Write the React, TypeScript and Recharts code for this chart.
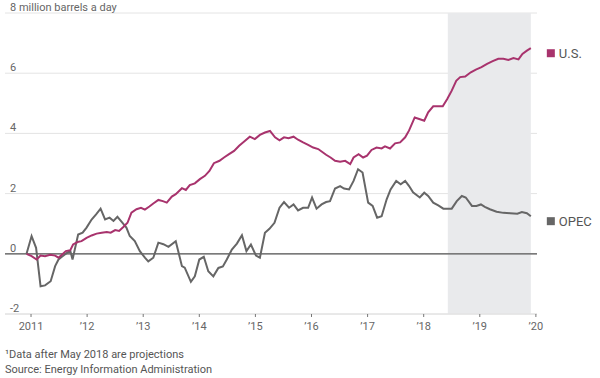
import React from 'react';
import { LineChart, Line, XAxis, YAxis, CartesianGrid, ReferenceLine, ReferenceArea } from 'recharts';

// Change in crude output since Dec 2010, million barrels a day (decimal years)
const usT = [2010.92, 2011.01, 2011.10, 2011.17, 2011.25, 2011.34, 2011.43, 2011.49, 2011.55, 2011.62, 2011.70, 2011.75, 2011.83, 2011.90, 2011.99, 2012.08, 2012.17, 2012.26, 2012.35, 2012.42, 2012.50, 2012.57, 2012.65, 2012.72, 2012.79, 2012.88, 2012.96, 2013.03, 2013.11, 2013.18, 2013.27, 2013.35, 2013.42, 2013.51, 2013.58, 2013.69, 2013.76, 2013.83, 2013.92, 2014.01, 2014.10, 2014.18, 2014.26, 2014.36, 2014.44, 2014.53, 2014.62, 2014.71, 2014.80, 2014.90, 2014.99, 2015.08, 2015.17, 2015.26, 2015.35, 2015.43, 2015.51, 2015.59, 2015.68, 2015.76, 2015.85, 2015.94, 2016.03, 2016.12, 2016.18, 2016.26, 2016.34, 2016.42, 2016.51, 2016.60, 2016.69, 2016.75, 2016.84, 2016.92, 2016.99, 2017.07, 2017.16, 2017.25, 2017.31, 2017.40, 2017.49, 2017.58, 2017.67, 2017.74, 2017.84, 2017.92, 2018.01, 2018.08, 2018.17, 2018.34, 2018.42, 2018.50, 2018.58, 2018.65, 2018.74, 2018.84, 2018.93, 2019.03, 2019.13, 2019.23, 2019.33, 2019.42, 2019.51, 2019.60, 2019.69, 2019.76, 2019.84, 2019.91];
const usV = [0, -0.08, -0.19, -0.06, -0.08, -0.03, -0.06, -0.13, -0.03, 0.09, 0.12, 0.31, 0.39, 0.42, 0.53, 0.61, 0.67, 0.7, 0.72, 0.7, 0.79, 0.76, 0.9, 1.03, 1.37, 1.48, 1.53, 1.47, 1.57, 1.67, 1.79, 1.75, 1.7, 1.9, 1.98, 2.18, 2.12, 2.28, 2.34, 2.48, 2.59, 2.75, 3.01, 3.09, 3.2, 3.31, 3.42, 3.59, 3.73, 3.89, 3.81, 3.95, 4.03, 4.08, 3.87, 3.77, 3.87, 3.84, 3.89, 3.79, 3.7, 3.62, 3.53, 3.48, 3.4, 3.29, 3.2, 3.09, 3.06, 3.09, 2.98, 3.2, 3.31, 3.2, 3.26, 3.45, 3.53, 3.5, 3.57, 3.5, 3.67, 3.7, 3.87, 4.1, 4.53, 4.48, 4.42, 4.7, 4.9, 4.9, 5.14, 5.42, 5.75, 5.87, 5.89, 6.03, 6.12, 6.2, 6.31, 6.4, 6.48, 6.48, 6.44, 6.5, 6.46, 6.64, 6.75, 6.83];

const opecT = [2010.92, 2011.01, 2011.09, 2011.17, 2011.25, 2011.35, 2011.43, 2011.49, 2011.55, 2011.64, 2011.70, 2011.74, 2011.84, 2011.92, 2011.99, 2012.08, 2012.16, 2012.24, 2012.32, 2012.40, 2012.47, 2012.54, 2012.62, 2012.70, 2012.76, 2012.85, 2012.94, 2013.03, 2013.09, 2013.18, 2013.27, 2013.36, 2013.45, 2013.58, 2013.69, 2013.74, 2013.85, 2013.92, 2014.00, 2014.08, 2014.16, 2014.25, 2014.34, 2014.42, 2014.49, 2014.58, 2014.67, 2014.76, 2014.84, 2014.92, 2015.01, 2015.08, 2015.17, 2015.25, 2015.34, 2015.43, 2015.51, 2015.60, 2015.68, 2015.76, 2015.85, 2015.94, 2016.01, 2016.09, 2016.18, 2016.26, 2016.33, 2016.42, 2016.51, 2016.58, 2016.67, 2016.75, 2016.83, 2016.91, 2017.01, 2017.09, 2017.17, 2017.25, 2017.34, 2017.41, 2017.51, 2017.59, 2017.67, 2017.74, 2017.81, 2017.93, 2018.01, 2018.08, 2018.17, 2018.26, 2018.35, 2018.50, 2018.59, 2018.68, 2018.75, 2018.86, 2018.94, 2019.02, 2019.09, 2019.18, 2019.30, 2019.42, 2019.54, 2019.67, 2019.75, 2019.84, 2019.91];
const opecV = [0, 0.59, 0.2, -1.08, -1.05, -0.91, -0.41, -0.19, -0.1, 0.03, 0.1, -0.19, 0.64, 0.7, 0.87, 1.14, 1.31, 1.5, 1.14, 1.2, 1.09, 1.23, 1.05, 0.87, 0.59, 0.42, 0.09, -0.13, -0.25, -0.13, 0.37, 0.32, 0.23, 0.42, -0.41, -0.46, -0.93, -0.75, -0.19, -0.1, -0.58, -0.75, -0.47, -0.42, -0.19, 0.14, 0.34, 0.62, 0.09, 0.31, -0.06, -0.13, 0.7, 0.83, 1.03, 1.53, 1.72, 1.53, 1.64, 1.44, 1.53, 1.53, 1.87, 1.5, 1.64, 1.72, 1.75, 2.17, 2.25, 2.17, 2.14, 2.42, 2.81, 2.7, 1.7, 1.59, 1.2, 1.25, 1.81, 2.14, 2.42, 2.31, 2.42, 2.25, 2.04, 1.87, 2.03, 1.92, 1.7, 1.61, 1.5, 1.5, 1.75, 1.92, 1.87, 1.59, 1.59, 1.64, 1.56, 1.48, 1.4, 1.36, 1.35, 1.33, 1.39, 1.35, 1.25];

const seriesNames = ['U.S.', 'OPEC'];
const yearTicks = [2011, 2012, 2013, 2014, 2015, 2016, 2017, 2018, 2019, 2020];
const yTicks = [-2, 0, 2, 4, 6, 8];
const yUnit = 'million barrels a day';
const projectionStart = 2018.43;
const projectionEnd = 2019.91;
const footnote = '¹Data after May 2018 are projections';
const source = 'Source: Energy Information Administration';

const usData = usT.map((t, i) => ({ t, v: usV[i] }));
const opecData = opecT.map((t, i) => ({ t, v: opecV[i] }));

const US_COLOR = '#a8336d';
const OPEC_COLOR = '#666666';
const FONT = "Roboto, 'Noto Sans', sans-serif";

const yearLabel = (y: number) => (y === 2011 ? String(y) : '\u2019' + String(y).slice(2));

const YTick = (props: any) => {
  const { y, payload } = props;
  const v = payload.value;
  const text = v === 8 ? `8 ${yUnit}` : String(v);
  return (
    <text x={10} y={y - 2} fill="#666" fontSize={11} fontFamily={FONT} textAnchor="start">
      {text}
    </text>
  );
};

const XTick = (props: any) => {
  const { x, y, payload } = props;
  return (
    <text x={x} y={y + 11} fill="#666" fontSize={11} fontFamily={FONT} textAnchor="middle">
      {yearLabel(payload.value)}
    </text>
  );
};

const makeEndLabel = (name: string, color: string, len: number) => (props: any) => {
  const { x, y, index } = props;
  if (index !== len - 1) return null;
  return (
    <g>
      <rect x={x + 16} y={y + 1} width={8} height={8} fill={color} />
      <text x={x + 28} y={y + 9.5} fill="#555" fontSize={13} fontFamily={FONT} textAnchor="start">
        {name}
      </text>
    </g>
  );
};

export default function App() {
  return (
    <div style={{ position: 'absolute', left: 0, top: 0, width: 600, height: 378, background: '#fff' }}>
      <LineChart width={600} height={378} margin={{ top: 13, right: 63, bottom: 34, left: 4 }}>
        <ReferenceArea x1={projectionStart} x2={projectionEnd} y1={-2} y2={8} fill="#e9eaec" fillOpacity={1} stroke="none" ifOverflow="hidden" />
        <CartesianGrid vertical={false} stroke="#e4e4e4" strokeWidth={1} />
        <XAxis
          type="number"
          dataKey="t"
          height={30}
          domain={[2010.536, 2020.02]}
          ticks={yearTicks}
          allowDataOverflow
          axisLine={{ stroke: '#e0e0e0' }}
          tickLine={{ stroke: '#777' }}
          tickSize={3}
          tick={<XTick />}
          interval={0}
        />
        <YAxis
          type="number"
          domain={[-2, 8]}
          ticks={yTicks}
          width={1}
          axisLine={false}
          tickLine={false}
          tick={<YTick />}
          interval={0}
        />
        <ReferenceLine y={0} stroke="#555" strokeWidth={1.3} />
        <Line data={opecData} dataKey="v" name={seriesNames[1]} stroke={OPEC_COLOR} strokeWidth={2} dot={false} isAnimationActive={false} label={makeEndLabel(seriesNames[1], OPEC_COLOR, opecData.length)} />
        <Line data={usData} dataKey="v" name={seriesNames[0]} stroke={US_COLOR} strokeWidth={2} dot={false} isAnimationActive={false} label={makeEndLabel(seriesNames[0], US_COLOR, usData.length)} />
      </LineChart>
      <div style={{ position: 'absolute', left: 5, top: 347, fontFamily: FONT, fontSize: 11, color: '#555', lineHeight: '15px', whiteSpace: 'nowrap' }}>
        <div>{footnote}</div>
        <div>{source}</div>
      </div>
    </div>
  );
}
